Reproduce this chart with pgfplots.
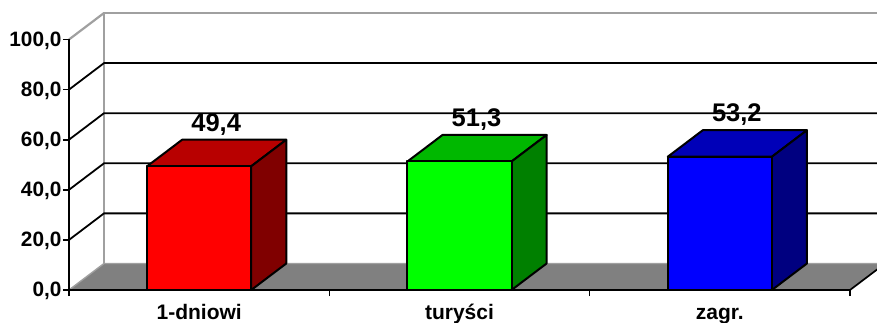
\documentclass[border=0pt]{standalone}
\usepackage{pgfplots}
\pgfplotsset{compat=1.18}
\usepackage{fontspec}
\setmainfont{Liberation Sans}
\definecolor{wallgray}{HTML}{A0A0A0}
\definecolor{floorgray}{HTML}{808080}
\begin{document}
\begin{tikzpicture}[x=1pt,y=1pt]
\path[use as bounding box] (-69,-33) rectangle (808,290);
\begin{axis}[
  at={(0,0)},anchor=south west,
  scale only axis,width=781pt,height=250.5pt,
  xmin=-0.5,xmax=2.5,ymin=0,ymax=100,
  clip=false,axis on top,
  axis x line=bottom,axis y line=left,
  axis line style={-,line width=1.9pt,black},
  xtick={0,1,2},xticklabels={1-dniowi,turyści,zagr.},
  minor xtick={-0.5,0.5,1.5,2.5},
  major x tick style={draw=none},
  minor x tick style={line width=1.5pt,black},
  minor tick length=6pt,
  ytick={0,20,40,60,80,100},
  y tick style={line width=1.7pt,black},
  major tick length=6pt,
  tick align=outside,
  yticklabel style={font=\bfseries\fontsize{20.8}{22}\selectfont,
    /pgf/number format/.cd,fixed,fixed zerofill,precision=1,use comma,assume math mode=true,
    /tikz/.cd,xshift=2pt,yshift=-1pt},
  xticklabel style={font=\bfseries\fontsize{21}{22}\selectfont,text height=14pt,text depth=4pt,anchor=north,yshift=-6pt},
]
% floor
\addplot[fill=floorgray,draw=none] coordinates {(-0.5,0) (2.5,0) (2.6345,10.58) (-0.3655,10.58)} --cycle;
\addplot[line width=1.4pt,wallgray] coordinates {(-0.5,0) (-0.3655,10.58) (2.6345,10.58)};
\addplot[line width=1.7pt,black] coordinates {(2.5,0) (2.6345,10.58)};
% walls and grid
\addplot[line width=2.2pt,wallgray] coordinates {(-0.3655,10.58) (-0.3655,110.58) (2.6345,110.58)};
\addplot[line width=2.2pt,wallgray] coordinates {(-0.5,100) (-0.3655,110.58)};
\addplot[line width=1.8pt,black] coordinates {(-0.5,20) (-0.3655,30.58) (2.6345,30.58)};
\addplot[line width=1.8pt,black] coordinates {(-0.5,40) (-0.3655,50.58) (2.6345,50.58)};
\addplot[line width=1.8pt,black] coordinates {(-0.5,60) (-0.3655,70.58) (2.6345,70.58)};
\addplot[line width=1.8pt,black] coordinates {(-0.5,80) (-0.3655,90.58) (2.6345,90.58)};
% bar 1
\addplot[fill=red!72!black,draw=black,line width=2pt,line join=round] coordinates {(-0.2,49.4) (0.2,49.4) (0.3345,59.98) (-0.0655,59.98)} --cycle;
\addplot[fill=red!50!black,draw=black,line width=2pt,line join=round] coordinates {(0.2,0) (0.3345,10.58) (0.3345,59.98) (0.2,49.4)} --cycle;
\addplot[fill=red,draw=black,line width=2pt,line join=round] coordinates {(-0.2,0) (0.2,0) (0.2,49.4) (-0.2,49.4)} --cycle;
% bar 2
\addplot[fill=green!72!black,draw=black,line width=2pt,line join=round] coordinates {(0.8,51.3) (1.2,51.3) (1.3345,61.88) (0.9345,61.88)} --cycle;
\addplot[fill=green!50!black,draw=black,line width=2pt,line join=round] coordinates {(1.2,0) (1.3345,10.58) (1.3345,61.88) (1.2,51.3)} --cycle;
\addplot[fill=green,draw=black,line width=2pt,line join=round] coordinates {(0.8,0) (1.2,0) (1.2,51.3) (0.8,51.3)} --cycle;
% bar 3
\addplot[fill=blue!72!black,draw=black,line width=2pt,line join=round] coordinates {(1.8,53.2) (2.2,53.2) (2.3345,63.78) (1.9345,63.78)} --cycle;
\addplot[fill=blue!50!black,draw=black,line width=2pt,line join=round] coordinates {(2.2,0) (2.3345,10.58) (2.3345,63.78) (2.2,53.2)} --cycle;
\addplot[fill=blue,draw=black,line width=2pt,line join=round] coordinates {(1.8,0) (2.2,0) (2.2,53.2) (1.8,53.2)} --cycle;
% value labels
\addplot[draw=none,mark=none,point meta=y,
  nodes near coords,
  every node near coord/.style={anchor=center,xshift=17pt,yshift=42pt,
    font=\bfseries\fontsize{25.5}{27}\selectfont,black,
    /pgf/number format/.cd,fixed,fixed zerofill,precision=1,use comma,assume math mode=true},
] coordinates {(0,49.4) (1,51.3) (2,53.2)};
\end{axis}
\end{tikzpicture}
\end{document}
